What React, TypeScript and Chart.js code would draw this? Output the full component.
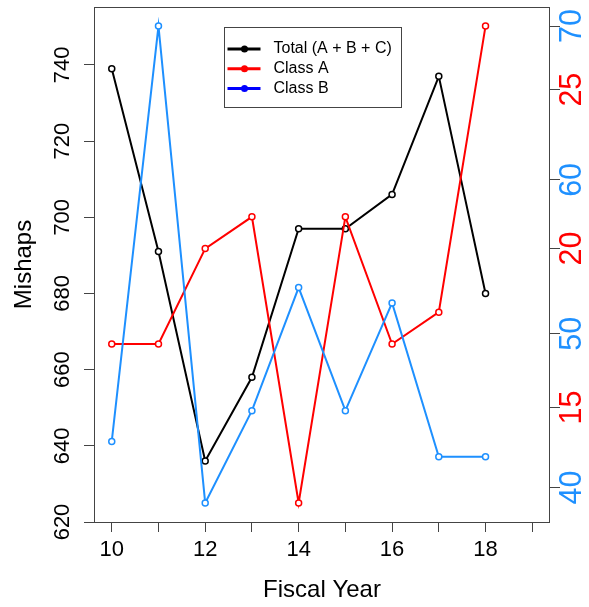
import React, { useEffect, useRef } from 'react';
import { Chart, registerables } from 'chart.js';

Chart.register(...registerables);

// ---- data ----
const years = [10, 11, 12, 13, 14, 15, 16, 17, 18];
const totalMishaps = [739, 691, 636, 658, 697, 697, 706, 737, 680];
const classAMishaps = [17, 17, 20, 21, 12, 21, 17, 18, 27];
const classBMishaps = [43, 70, 39, 45, 53, 45, 52, 42, 42];

const xTicks = [10, 11, 12, 13, 14, 15, 16, 17, 18, 19];
const xTickLabels = ['10', '', '12', '', '14', '', '16', '', '18', ''];
const leftTicks = [620, 640, 660, 680, 700, 720, 740];
const classATicks = [15, 20, 25];
const classBTicks = [40, 50, 60, 70];

const legendLabels = ['Total (A + B + C)', 'Class A', 'Class B'];
const legendColors = ['#000000', '#FF0000', '#0000FF'];

const seriesColors = ['#000000', '#FF0000', '#1E90FF'];

const FONT = "'Liberation Sans', Arial, sans-serif";
const AXIS_COLOR = '#444444';

const setTicks = (values: number[]) => (scale: any) => {
  scale.ticks = values.map((v) => ({ value: v }));
};

const fitTo = (dim: 'width' | 'height', size: number) => (s: any) => {
  s[dim] = size;
  s.paddingTop = 0;
  s.paddingBottom = 0;
  s.paddingLeft = 0;
  s.paddingRight = 0;
};

const gridOpts = {
  display: true,
  drawOnChartArea: false,
  drawTicks: true,
  tickLength: 10,
  color: AXIS_COLOR,
  lineWidth: 1,
};

const framePlugin = {
  id: 'frameAndLegend',
  afterLayout(chart: any) {
    // the Class B axis shares the right-hand position with the Class A axis
    const b = chart.scales.yB;
    const a = chart.scales.yA;
    if (b && a) {
      b.left = a.left;
      b.right = a.right;
      b.width = a.right - a.left;
    }
  },
  beforeDraw(chart: any) {
    const ctx = chart.ctx;
    ctx.save();
    ctx.fillStyle = '#ffffff';
    ctx.fillRect(0, 0, chart.width, chart.height);
    ctx.restore();
  },
  afterDraw(chart: any) {
    const ctx = chart.ctx;
    const a = chart.chartArea;
    ctx.save();
    ctx.strokeStyle = AXIS_COLOR;
    ctx.lineWidth = 1;
    ctx.strokeRect(Math.round(a.left) + 0.5, Math.round(a.top) + 0.5, Math.round(a.right - a.left) - 1, Math.round(a.bottom - a.top));
    // legend anchored in data coordinates (x = 12.4, y = 750)
    const lx = Math.round(chart.scales.x.getPixelForValue(12.4)) + 0.5;
    const ly = Math.round(chart.scales.y.getPixelForValue(750)) + 0.5;
    const w = 177;
    const h = 80;
    ctx.fillStyle = '#ffffff';
    ctx.fillRect(lx, ly, w, h);
    ctx.strokeRect(lx, ly, w, h);
    ctx.font = `16px ${FONT}`;
    ctx.textBaseline = 'middle';
    ctx.textAlign = 'left';
    legendLabels.forEach((label, i) => {
      const yy = ly + 21.5 + i * 19.7;
      ctx.strokeStyle = legendColors[i];
      ctx.lineWidth = 3;
      ctx.beginPath();
      ctx.moveTo(lx + 3, yy);
      ctx.lineTo(lx + 36, yy);
      ctx.stroke();
      ctx.fillStyle = legendColors[i];
      ctx.beginPath();
      ctx.arc(lx + 20, yy, 3.5, 0, Math.PI * 2);
      ctx.fill();
      ctx.fillStyle = '#000000';
      ctx.fillText(label, lx + 49, yy);
    });
    ctx.restore();
  },
};

export default function App() {
  const ref = useRef<HTMLCanvasElement>(null);
  useEffect(() => {
    const mk = (label: string, data: number[], color: string, axis: string, order: number) => ({
      label,
      data: years.map((x, i) => ({ x, y: data[i] })),
      borderColor: color,
      backgroundColor: color,
      borderWidth: 2,
      pointRadius: 3,
      pointBorderWidth: 1.5,
      pointBorderColor: color,
      pointBackgroundColor: '#ffffff',
      yAxisID: axis,
      order,
      tension: 0,
    });
    const rotatedTicks = (color: string, padding: number, size: number) => ({
      autoSkip: false,
      minRotation: 90,
      maxRotation: 90,
      crossAlign: 'center',
      padding,
      color,
      font: { family: FONT, size },
      callback: (v: any) => String(v),
    });
    const chart = new Chart(ref.current as HTMLCanvasElement, {
      type: 'line',
      data: {
        datasets: [
          mk('Total (A + B + C)', totalMishaps, seriesColors[0], 'y', 3),
          mk('Class A', classAMishaps, seriesColors[1], 'yA', 2),
          mk('Class B', classBMishaps, seriesColors[2], 'yB', 1),
        ],
      },
      options: {
        animation: false,
        responsive: false,
        devicePixelRatio: 1,
        layout: { padding: { top: 7, left: 0, right: 0, bottom: 0 } },
        plugins: { legend: { display: false }, tooltip: { enabled: false } },
        scales: {
          x: {
            type: 'linear',
            position: 'bottom',
            min: 9.62,
            max: 19.38,
            afterBuildTicks: setTicks(xTicks),
            afterFit: fitTo('height', 85),
            grid: gridOpts,
            border: { display: false },
            ticks: {
              autoSkip: false,
              minRotation: 0,
              maxRotation: 0,
              padding: 4.3,
              color: '#000000',
              font: { family: FONT, size: 22 },
              callback: (v: any) => xTickLabels[xTicks.indexOf(Number(v))] ?? '',
            },
            title: {
              display: true,
              text: 'Fiscal Year',
              color: '#000000',
              font: { family: FONT, size: 24 },
              padding: { top: 0, bottom: 2.6 },
            },
          },
          y: {
            type: 'linear',
            position: 'left',
            min: 620,
            max: 755.2,
            afterBuildTicks: setTicks(leftTicks),
            afterFit: fitTo('width', 94),
            grid: gridOpts,
            border: { display: false },
            ticks: rotatedTicks('#000000', 2.4, 22),
            title: {
              display: true,
              text: 'Mishaps',
              color: '#000000',
              font: { family: FONT, size: 24 },
              padding: { top: 9.6, bottom: 0 },
            },
          },
          yB: {
            type: 'linear',
            position: 'right',
            weight: 0,
            min: 37.76,
            max: 71.24,
            afterBuildTicks: setTicks(classBTicks),
            afterFit: fitTo('width', 0),
            grid: gridOpts,
            border: { display: false },
            ticks: rotatedTicks('#1E90FF', -4.5, 30.5),
          },
          yA: {
            type: 'linear',
            position: 'right',
            weight: 1,
            min: 11.4,
            max: 27.6,
            afterBuildTicks: setTicks(classATicks),
            afterFit: fitTo('width', 39),
            grid: gridOpts,
            border: { display: false },
            ticks: rotatedTicks('#FF0000', -4.5, 30.5),
          },
        },
      } as any,
      plugins: [framePlugin],
    });
    return () => chart.destroy();
  }, []);
  return (
    <div style={{ position: 'fixed', left: 0, top: 0, width: 589, height: 607, background: '#ffffff' }}>
      <canvas ref={ref} width={589} height={607} style={{ display: 'block', width: 589, height: 607 }} />
    </div>
  );
}
